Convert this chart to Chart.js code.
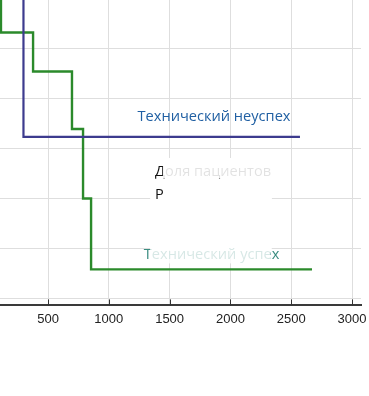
<!DOCTYPE html>
<html>
<head>
<meta charset="utf-8">
<title>km_chart</title>
<script src="https://cdn.jsdelivr.net/npm/chart.js@4.4.0/dist/chart.umd.min.js"></script>
<style>
  html, body { margin: 0; padding: 0; background: #fff; overflow: hidden; }
  #wrap { position: relative; width: 369px; height: 396px; }
</style>
</head>
<body>
<div id="wrap"><canvas id="stage" width="369" height="396"></canvas></div>
<script>
// data (time in days, cumulative value)
var successName = 'Технический успех';
var successTimes = [0, 113, 377, 697, 788, 854, 2671];
var successVals  = [0.70, 0.532, 0.454, 0.339, 0.200, 0.058, 0.058];

var failName = 'Технический неуспех';
var failTimes = [0, 298, 2572];
var failVals  = [0.90, 0.323, 0.323];

var xTickVals = [500, 1000, 1500, 2000, 2500, 3000];
var yGridVals = [0, 0.1, 0.2, 0.3, 0.4, 0.5];

// text drawn in the plot, placed in data units
var noteLines = ['Доля пациентов', 'Р'];

function pts(xs, ys) {
    var out = [];
    for (var i = 0; i < xs.length; i++) out.push({x: xs[i], y: ys[i]});
    return out;
}

// white box over the middle of the plot + labels
var overlay = {
    id: 'overlay',
    beforeDatasetsDraw: function(chart) {
        var ctx = chart.ctx, sx = chart.scales.x, sy = chart.scales.y;
        ctx.save();
        ctx.fillStyle = '#fff';
        var x0 = sx.getPixelForValue(1340), x1 = sx.getPixelForValue(2340);
        var y0 = sy.getPixelForValue(0.281), y1 = sy.getPixelForValue(0.097);
        ctx.fillRect(x0, y0, x1 - x0, y1 - y0);
        ctx.restore();
    },
    afterDraw: function(chart) {
        var ctx = chart.ctx, sx = chart.scales.x, sy = chart.scales.y;
        ctx.save();
        // small tick marks pointing up from the axis
        ctx.strokeStyle = '#333';
        ctx.lineWidth = 1;
        xTickVals.forEach(function(v) {
            var px = Math.round(sx.getPixelForValue(v)) + 0.5;
            ctx.beginPath();
            ctx.moveTo(px, sy.bottom);
            ctx.lineTo(px, sy.bottom - 6);
            ctx.stroke();
        });

        ctx.font = '14.6px "Open Sans"';
        ctx.textBaseline = 'middle';
        ctx.textAlign = 'center';
        ctx.fillStyle = '#2160a3';
        ctx.fillText(failName, sx.getPixelForValue(1865), sy.getPixelForValue(0.363));
        ctx.fillStyle = '#3a8c80';
        var gx = sx.getPixelForValue(1845), gy = sy.getPixelForValue(0.087);
        ctx.fillText(successName, gx, gy);

        ctx.textAlign = 'left';
        ctx.fillStyle = '#111';
        var nx = sx.getPixelForValue(1380);
        ctx.fillText(noteLines[0], nx, sy.getPixelForValue(0.254));
        ctx.fillText(noteLines[1], nx, sy.getPixelForValue(0.208));

        // the washed-out part of the labels
        ctx.fillStyle = 'rgba(255,255,255,0.88)';
        var fx0 = sx.getPixelForValue(1445), fx1 = sx.getPixelForValue(2340);
        ctx.fillRect(fx0, sy.getPixelForValue(0.272), fx1 - fx0, sy.getPixelForValue(0.24) - sy.getPixelForValue(0.272));
        ctx.fillRect(fx0, sy.getPixelForValue(0.225), fx1 - fx0, sy.getPixelForValue(0.19) - sy.getPixelForValue(0.225));
        var gx0 = sx.getPixelForValue(1340), gx1 = sx.getPixelForValue(2330);
        ctx.fillStyle = 'rgba(255,255,255,0.8)';
        ctx.fillRect(gx0, sy.getPixelForValue(0.108), gx1 - gx0, sy.getPixelForValue(0.07) - sy.getPixelForValue(0.108));
        ctx.restore();
    }
};

var mydata = {
    datasets: [
        {
            label: failName,
            data: pts(failTimes, failVals),
            borderColor: '#3d3b8e',
            borderWidth: 2.2,
            stepped: 'before',
            pointRadius: 0,
            fill: false
        },
        {
            label: successName,
            data: pts(successTimes, successVals),
            borderColor: '#2b8a2b',
            borderWidth: 2.4,
            stepped: 'before',
            pointRadius: 0,
            fill: false
        }
    ]
};

var options = {
    responsive: false,
    animation: false,
    layout: { padding: { left: 0, right: 8, top: 0, bottom: 63 } },
    plugins: { legend: { display: false }, tooltip: { enabled: false } },
    scales: {
        x: {
            type: 'linear',
            min: 105,
            max: 3074,
            afterBuildTicks: function(axis) {
                axis.ticks = xTickVals.map(function(v) { return {value: v}; });
            },
            afterFit: function(axis) { axis.paddingLeft = 0; axis.paddingRight = 0; },
            grid: { color: '#dedede', lineWidth: 1, drawTicks: false },
            border: { display: true, color: '#3a3a3a', width: 2 },
            ticks: {
                padding: 6,
                color: '#222',
                font: { family: 'Liberation Sans', size: 13 },
                maxRotation: 0,
                autoSkip: false,
                callback: function(v) { return String(v); }
            }
        },
        y: {
            type: 'linear',
            min: -0.014,
            max: 0.597,
            afterBuildTicks: function(axis) {
                axis.ticks = yGridVals.map(function(v) { return {value: v}; });
            },
            afterFit: function(axis) { axis.width = 0; },
            grid: { color: '#dedede', lineWidth: 1, drawTicks: false },
            border: { display: false },
            ticks: { display: false }
        }
    }
};

var canvas = document.getElementById('stage');
var chart = new Chart(canvas, {
    type: 'line',
    data: mydata,
    options: options,
    plugins: [overlay]
});
</script>
</body>
</html>
